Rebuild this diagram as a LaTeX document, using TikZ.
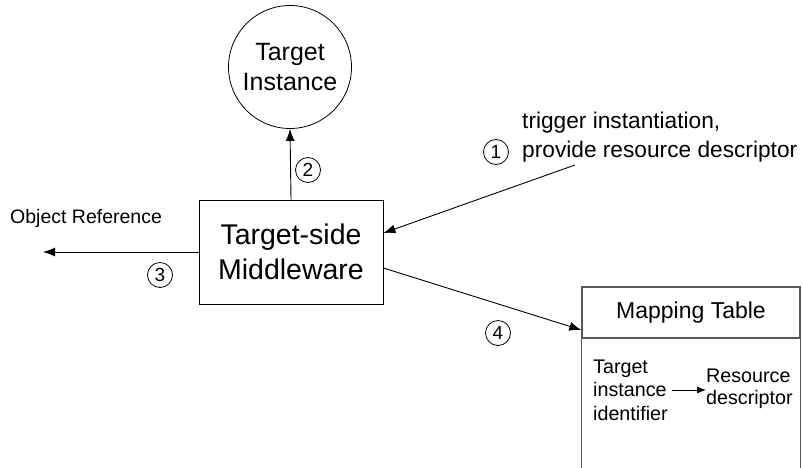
\documentclass[tikz,border=0pt]{standalone}
\usepackage{fontspec}
\setmainfont{Liberation Sans}
\usetikzlibrary{arrows.meta, positioning, calc}

\tikzset{
  conn/.style={line width=0.9pt, -{Latex[length=12pt, width=9pt]}},
  stepnum/.style={circle, draw, line width=0.8pt, inner sep=0pt, minimum size=25pt, font=\fontsize{19}{19}\selectfont},
  tabline/.style={draw=black!65, line width=1.4pt}
}

\begin{document}
\begin{tikzpicture}[x=1pt, y=-1pt, every node/.style={inner sep=0pt}]
\useasboundingbox (0,0) rectangle (803,467);
\node[circle, draw, line width=0.8pt, minimum size=123pt, align=center, font=\fontsize{25}{30}\selectfont] (inst) at (290,67) {Target\\Instance};
\node[draw, line width=0.9pt, minimum width=184pt, minimum height=104pt, align=center, font=\fontsize{28.5}{35}\selectfont] (mw) at (291,252) {Target-side\\Middleware};
\node[tabline, minimum width=218pt, minimum height=51pt, font=\fontsize{23}{23}\selectfont] (tabhead) at (691,312.5) {Mapping Table};
\draw[tabline] (tabhead.south west) -- ++(0,130);
\draw[tabline] (tabhead.south east) -- ++(0,130);
\node[align=left, anchor=west, font=\fontsize{19.7}{23.5}\selectfont] (tid) at (593,390) {Target\\instance\\identifier};
\node[align=left, anchor=west, font=\fontsize{19.7}{22.5}\selectfont] (rdesc) at (706,389) {Resource\\descriptor};
\draw[line width=0.9pt, -{Latex[length=9pt, width=7pt]}] (672,390) -- (rdesc.west |- 0,390);

\node[align=left, anchor=west, font=\fontsize{22.7}{29}\selectfont] (trig) at (522,137.5) {trigger instantiation,\\provide resource descriptor};
\node[stepnum] (s1) at (496,152) {1};
\coordinate (trigstart) at (575,165);
\draw[conn] (trigstart) -- (mw.east |- 0,233);

\draw[conn] (mw.north) -- (inst.south);
\node[stepnum] (s2) at (308,170) {2};

\node[anchor=west, font=\fontsize{19.5}{19.5}\selectfont] (objref) at (10,218) {Object Reference};
\coordinate (refend) at (43,252);
\draw[conn] (mw.west) -- (refend);
\node[stepnum] (s3) at (160,275) {3};

\draw[conn] (mw.east |- 0,268) -- (tabhead.west |- 0,330);
\node[stepnum] (s4) at (498,333) {4};
\end{tikzpicture}
\end{document}
